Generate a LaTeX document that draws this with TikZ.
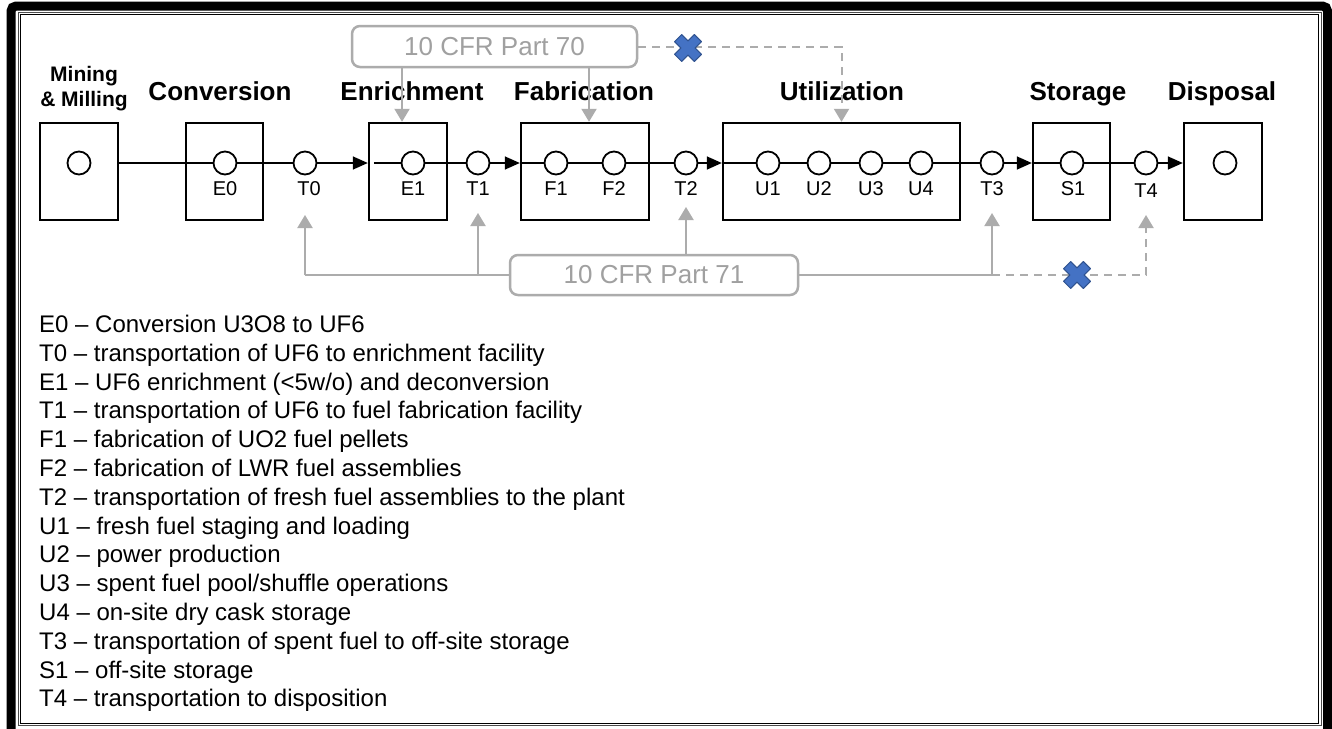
\documentclass[tikz,border=0pt]{standalone}
\usepackage{fontspec}
\setmainfont{Liberation Sans}
\usetikzlibrary{arrows.meta}
\definecolor{cfrgray}{RGB}{172,172,172}
\definecolor{cfrtext}{RGB}{160,160,160}
\definecolor{xblue}{RGB}{68,114,196}
\definecolor{xdark}{RGB}{47,82,143}
\tikzset{xmark/.pic={\draw[fill=xblue, draw=xdark, line width=1pt, line join=round, rotate=45]
  (-5,-14) -- (5,-14) -- (5,-5) -- (14,-5) -- (14,5) -- (5,5) -- (5,14) -- (-5,14) -- (-5,5) -- (-14,5) -- (-14,-5) -- (-5,-5) -- cycle;}}
\begin{document}
\begin{tikzpicture}[x=1pt,y=-1pt,
  stage/.style={draw, line width=2.4pt, minimum height=97pt, inner sep=0pt},
  dot/.style={circle, draw, line width=1.8pt, minimum size=23pt, inner sep=0pt, fill=white},
  dotlab/.style={anchor=base, font=\fontsize{20}{24}\selectfont, inner sep=0pt},
  title/.style={anchor=base, font=\fontsize{26}{30}\selectfont\bfseries, inner sep=0pt},
  flow/.style={line width=1.5pt},
  flowarrow/.style={line width=1.5pt, -{Triangle[length=15pt,width=13pt]}},
  cfrbox/.style={draw=cfrgray, line width=2.5pt, rounded corners=8pt, text=cfrtext, font=\fontsize{26}{30}\selectfont, inner sep=0pt},
  cfrline/.style={draw=cfrgray, line width=2pt},
  cfrarrow/.style={cfrline, -{Triangle[length=13pt,width=15pt]}},
  cfrdash/.style={cfrline, dash pattern=on 8pt off 6pt},
  cfrdasharrow/.style={cfrdash, -{Triangle[length=13pt,width=15pt]}},
  legend/.style={anchor=base west, font=\fontsize{24}{28.8}\selectfont, inner sep=0pt}
]
\useasboundingbox (0,0) rectangle (1332,728);
\fill[white] (0,0) rectangle (1332,728);
% frame
\draw[line width=9pt, rounded corners=5pt] (11,6) rectangle (1327.5,745);
\draw[line width=0.9pt, black!70] (18,12) rectangle (1321,725.5);
\draw[line width=0.9pt] (20.5,14.5) rectangle (1318.5,723);

% stage boxes
\node[stage, minimum width=78pt] (mbox) at (79,171.5) {};
\node[stage, minimum width=77pt] (cbox) at (224.5,171.5) {};
\node[stage, minimum width=78pt] (ebox) at (408,171.5) {};
\node[stage, minimum width=128pt] (fbox) at (585,171.5) {};
\node[stage, minimum width=237pt] (ubox) at (841.5,171.5) {};
\node[stage, minimum width=77pt] (sbox) at (1071.5,171.5) {};
\node[stage, minimum width=78pt] (dbox) at (1223,171.5) {};

% titles
\node[font=\fontsize{21}{25}\selectfont\bfseries, align=center, inner sep=0pt] (tmin) at (84,89) {Mining\\\& Milling};
\node[title] (tconv) at (220,100) {Conversion};
\node[title] (tenr) at (412,100) {Enrichment};
\node[title] (tfab) at (584,100) {Fabrication};
\node[title] (tutil) at (842,100) {Utilization};
\node[title] (tsto) at (1078,100) {Storage};
\node[title] (tdis) at (1222,100) {Disposal};

% circles
\node[dot] (cm) at (79,163) {};
\node[dot] (e0) at (225,163) {};
\node[dot] (t0) at (305,163) {};
\node[dot] (e1) at (413,163) {};
\node[dot] (t1) at (478,163) {};
\node[dot] (f1) at (556,163) {};
\node[dot] (f2) at (614,163) {};
\node[dot] (t2) at (686,163) {};
\node[dot] (u1) at (768,163) {};
\node[dot] (u2) at (819,163) {};
\node[dot] (u3) at (871,163) {};
\node[dot] (u4) at (921,163) {};
\node[dot] (t3) at (992,163) {};
\node[dot] (s1) at (1072,163) {};
\node[dot] (t4) at (1146,163) {};
\node[dot] (cd) at (1225,163) {};

% circle labels
\node[dotlab] (le0) at (225,195) {E0};
\node[dotlab] (lt0) at (309,195) {T0};
\node[dotlab] (le1) at (413,195) {E1};
\node[dotlab] (lt1) at (478,195) {T1};
\node[dotlab] (lf1) at (556,195) {F1};
\node[dotlab] (lf2) at (614,195) {F2};
\node[dotlab] (lt2) at (686,195) {T2};
\node[dotlab] (lu1) at (768,195) {U1};
\node[dotlab] (lu2) at (819,195) {U2};
\node[dotlab] (lu3) at (871,195) {U3};
\node[dotlab] (lu4) at (921,195) {U4};
\node[dotlab] (lt3) at (992,195) {T3};
\node[dotlab] (ls1) at (1073,195) {S1};
\node[dotlab] (lt4) at (1146,197) {T4};

% main flow
\draw[flow] (mbox.east |- e0) -- (e0) -- (t0);
\draw[flowarrow] (t0) -- (t0 -| ebox.west);
\draw[flow] ([xshift=6pt]ebox.west |- e1) -- (e1) -- (t1);
\draw[flowarrow] (t1) -- (t1 -| fbox.west);
\draw[flow] (fbox.west |- f1) -- (f1) -- (f2) -- (t2);
\draw[flowarrow] (t2) -- (t2 -| ubox.west);
\draw[flow] (ubox.west |- u1) -- (u1) -- (u2) -- (u3) -- (u4) -- (t3);
\draw[flowarrow] (t3) -- (t3 -| sbox.west);
\draw[flow] (sbox.west |- s1) -- (s1) -- (t4);
\draw[flowarrow] (t4) -- (t4 -| dbox.west);

% regulation boxes
\node[cfrbox, minimum width=285pt, minimum height=41pt] (p70) at (494.5,46.5) {10 CFR Part 70};
\node[cfrbox, minimum width=288pt, minimum height=40pt] (p71) at (654,275) {10 CFR Part 71};

% Part 70 connectors
\draw[cfrarrow] ([xshift=-6pt]ebox.north |- p70.south) -- ([xshift=-6pt]ebox.north);
\draw[cfrarrow] ([xshift=4pt]fbox.north |- p70.south) -- ([xshift=4pt]fbox.north);
\draw[cfrdasharrow] (p70.east) -- (p70.east -| ubox.north) -- (ubox.north);
\pic at (688,48) {xmark};

% Part 71 connectors
\coordinate (a0) at (305,215);
\coordinate (a1) at (478,213);
\coordinate (a2) at (686,207);
\coordinate (a3) at (992,213);
\coordinate (a4) at (1146,215);
\draw[cfrline] (p71.west) -- (p71.west -| t0);
\draw[cfrarrow] (p71.west -| t0) -- (a0);
\draw[cfrarrow] (p71.west -| t1) -- (a1);
\draw[cfrarrow] (p71.north -| t2) -- (a2);
\draw[cfrline] (p71.east) -- (p71.east -| t3);
\draw[cfrarrow] (p71.east -| t3) -- (a3);
\draw[cfrdasharrow] (p71.east -| t3) -- (p71.east -| t4) -- (a4);
\pic at (1077,275) {xmark};

% legend
\foreach \t [count=\i] in {
  E0 – Conversion U3O8 to UF6,
  T0 – transportation of UF6 to enrichment facility,
  E1 – UF6 enrichment (<5w/o) and deconversion,
  T1 – transportation of UF6 to fuel fabrication facility,
  F1 – fabrication of UO2 fuel pellets,
  F2 – fabrication of LWR fuel assemblies,
  T2 – transportation of fresh fuel assemblies to the plant,
  U1 – fresh fuel staging and loading,
  U2 – power production,
  U3 – spent fuel pool/shuffle operations,
  U4 – on-site dry cask storage,
  T3 – transportation of spent fuel to off-site storage,
  S1 – off-site storage,
  T4 – transportation to disposition}
  \node[legend] (leg\i) at (39,{332.5+28.8*(\i-1)}) {\t};
\end{tikzpicture}
\end{document}
